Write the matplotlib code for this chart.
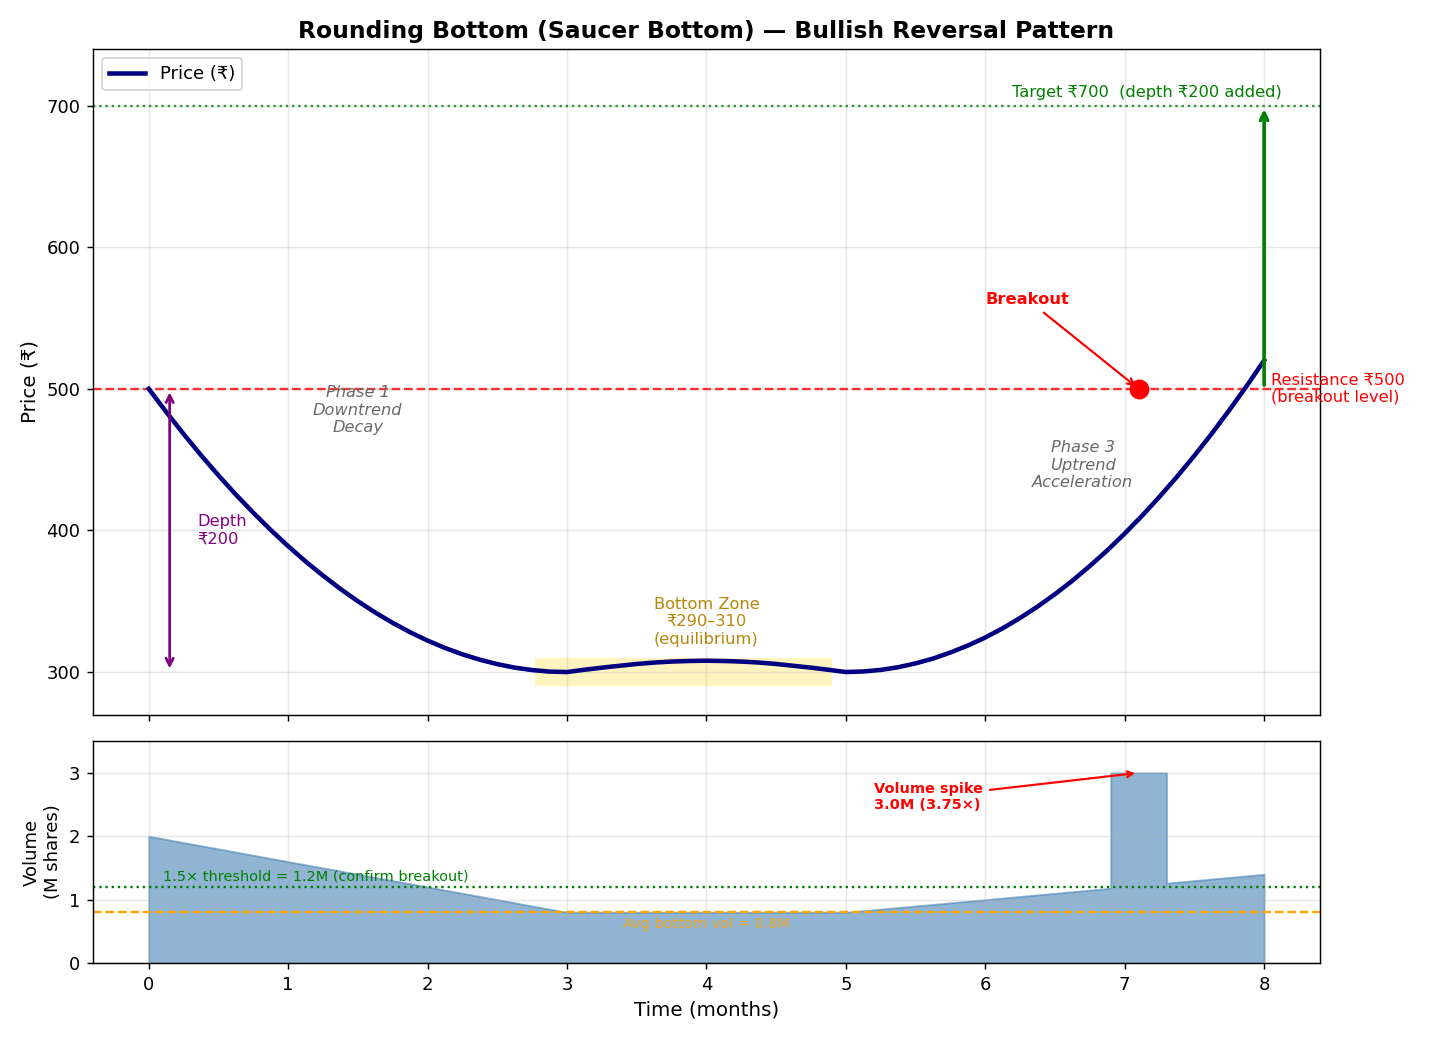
import matplotlib
matplotlib.use("Agg")
import matplotlib.pyplot as plt
from matplotlib.patches import Rectangle

# ---- data ----
t_price = [0.0, 0.125, 0.25, 0.375, 0.5, 0.625, 0.75, 0.875, 1.0, 1.125, 1.25, 1.375, 1.5,
           1.625, 1.75, 1.875, 2.0, 2.125, 2.25, 2.375, 2.5, 2.625, 2.75, 2.875, 3.0,
           3.125, 3.25, 3.375, 3.5, 3.625, 3.75, 3.875, 4.0, 4.125, 4.25, 4.375, 4.5,
           4.625, 4.75, 4.875, 5.0,
           5.125, 5.25, 5.375, 5.5, 5.625, 5.75, 5.875, 6.0, 6.125, 6.25, 6.375, 6.5,
           6.625, 6.75, 6.875, 7.0, 7.125, 7.25, 7.375, 7.5, 7.625, 7.75, 7.875, 8.0]
price = [500.0, 483.7, 468.1, 453.1, 438.9, 425.3, 412.5, 400.3, 388.9, 378.1, 368.1, 358.7, 350.0,
         342.0, 334.7, 328.1, 322.2, 317.0, 312.5, 308.7, 305.6, 303.1, 301.4, 300.3, 300.0,
         301.6, 303.1, 304.4, 305.7, 306.7, 307.4, 307.8, 308.0, 307.8, 307.4, 306.7, 305.7,
         304.4, 303.1, 301.6, 300.0,
         300.4, 301.5, 303.4, 306.1, 309.5, 313.8, 318.7, 324.4, 330.9, 338.2, 346.2, 355.0,
         364.5, 374.9, 385.9, 397.8, 410.4, 423.8, 437.9, 452.8, 468.4, 484.9, 502.0, 520.0]

t_vol = [0.0, 3.0, 5.0, 6.9, 6.9, 7.3, 7.3, 8.0]
volume = [2.0, 0.8, 0.8, 1.18, 3.0, 3.0, 1.26, 1.4]

resistance = 500
target = 700
depth_low = 300
bottom_zone = (290, 310)
bottom_zone_x = (2.77, 4.9)
breakout_t, breakout_p = 7.1, 500
avg_bottom_vol = 0.8
vol_threshold = 1.2
spike_t, spike_v = 7.1, 3.0

fig, (ax1, ax2) = plt.subplots(2, 1, figsize=(11, 8), dpi=130, sharex=True,
                               gridspec_kw={'height_ratios': [3, 1]})

# ---- price panel ----
ax1.plot(t_price, price, color='navy', lw=2.5, label='Price (₹)', zorder=3)
ax1.axhline(resistance, color='red', ls='--', lw=1.3, alpha=0.8)
ax1.axhline(target, color='green', ls=':', lw=1.3, alpha=0.8)
ax1.add_patch(Rectangle((bottom_zone_x[0], bottom_zone[0]), bottom_zone_x[1] - bottom_zone_x[0],
                        bottom_zone[1] - bottom_zone[0], color='gold', alpha=0.25, lw=0, zorder=1))
ax1.plot([breakout_t], [breakout_p], 'o', color='red', ms=10, zorder=5)
ax1.annotate('Breakout', xy=(breakout_t, breakout_p), xytext=(6.0, 560),
             color='red', fontsize=9, fontweight='bold',
             arrowprops=dict(arrowstyle='->', color='red', lw=1.2))
ax1.annotate('', xy=(8, target), xytext=(8, resistance),
             arrowprops=dict(arrowstyle='->', color='green', lw=2))
ax1.text(8.13, 704, 'Target ₹700  (depth ₹200 added)', color='green', fontsize=9,
         ha='right', va='bottom')
ax1.text(8.05, resistance, 'Resistance ₹500\n(breakout level)', color='red', fontsize=9,
         ha='left', va='center')
ax1.annotate('', xy=(0.15, depth_low), xytext=(0.15, resistance),
             arrowprops=dict(arrowstyle='<->', color='purple', lw=1.5))
ax1.text(0.35, 400, 'Depth\n₹200', color='purple', fontsize=9, ha='left', va='center')
ax1.text(4.0, 318, 'Bottom Zone\n₹290–310\n(equilibrium)', color='darkgoldenrod', fontsize=9,
         ha='center', va='bottom')
ax1.text(1.5, 485, 'Phase 1\nDowntrend\nDecay', color='dimgray', fontsize=9, style='italic',
         ha='center', va='center')
ax1.text(6.7, 446, 'Phase 3\nUptrend\nAcceleration', color='dimgray', fontsize=9, style='italic',
         ha='center', va='center')
ax1.set_ylim(270, 740)
ax1.set_ylabel('Price (₹)', fontsize=11)
ax1.set_title('Rounding Bottom (Saucer Bottom) — Bullish Reversal Pattern',
              fontsize=13, fontweight='bold')
ax1.grid(True, alpha=0.3)
ax1.legend(loc='upper left', fontsize=10)

# ---- volume panel ----
ax2.fill_between(t_vol, volume, color='steelblue', alpha=0.6)
ax2.axhline(avg_bottom_vol, color='orange', ls='--', lw=1.3)
ax2.axhline(vol_threshold, color='green', ls=':', lw=1.3)
ax2.text(4.0, 0.72, 'Avg bottom vol = 0.8M', color='orange', fontsize=8,
         ha='center', va='top', alpha=0.85)
ax2.text(0.1, 1.26, '1.5× threshold = 1.2M (confirm breakout)', color='green', fontsize=8,
         ha='left', va='bottom')
ax2.annotate('Volume spike\n3.0M (3.75×)', xy=(spike_t, spike_v), xytext=(5.2, 2.62),
             color='red', fontsize=8, fontweight='bold', ha='left', va='center',
             arrowprops=dict(arrowstyle='->', color='red', lw=1.2))
ax2.set_ylim(0, 3.5)
ax2.set_ylabel('Volume\n(M shares)', fontsize=10)
ax2.set_xlabel('Time (months)', fontsize=11)
ax2.set_xticks(range(0, 9))
ax2.grid(True, alpha=0.3)

fig.subplots_adjust(left=0.065, right=0.923, top=0.953, bottom=0.074, hspace=0.06)
fig.savefig('out.png', dpi=130)
